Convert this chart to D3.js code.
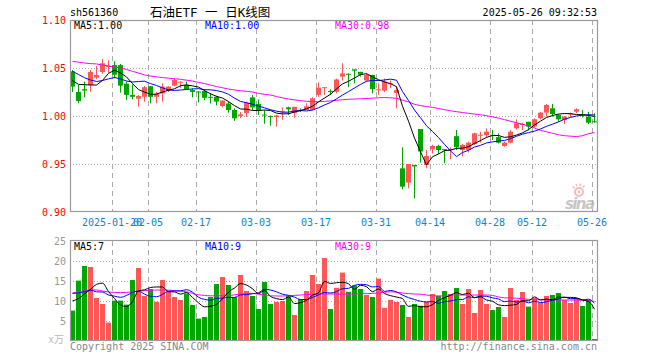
<!DOCTYPE html>
<html>
<head>
<meta charset="utf-8">
<script src="https://cdn.jsdelivr.net/npm/d3@7"></script>
<style>
  body { margin: 0; background: #fff; }
  svg { display: block; }
  text { font-family: "DejaVu Sans Mono", monospace; font-size: 10px; }
</style>
</head>
<body>
<svg id="chart" width="660" height="360"></svg>
<script>
// trading days shown, 2025
const dates = [
  "01-09","01-10","01-13","01-14","01-15","01-16","01-17","01-20","01-21","01-22","01-23","01-24","01-27",
  "02-05","02-06","02-07","02-10","02-11","02-12","02-13","02-14","02-17","02-18","02-19","02-20","02-21","02-24","02-25","02-26","02-27","02-28",
  "03-03","03-04","03-05","03-06","03-07","03-10","03-11","03-12","03-13","03-14","03-17","03-18","03-19","03-20","03-21","03-24","03-25","03-26","03-27","03-28","03-31",
  "04-01","04-02","04-03","04-07","04-08","04-09","04-10","04-11","04-14","04-15","04-16","04-17","04-18","04-21","04-22","04-23","04-24","04-25","04-28","04-29","04-30",
  "05-06","05-07","05-08","05-09","05-12","05-13","05-14","05-15","05-16","05-19","05-20","05-21","05-22","05-23","05-26"
];

const open = [
  1.0465,1.025,1.028,1.0323,1.040,1.0458,1.051,1.053,1.053,1.0337,
  1.022,1.018,1.020,1.031,1.020,1.0236,1.0264,1.0316,1.0347,1.0323,
  1.027,1.0255,1.026,1.020,1.020,1.0104,1.013,1.0063,1.000,1.003,
  1.0194,1.0125,1.0015,1.000,0.999,1.004,1.009,1.003,1.0065,1.0063,
  1.0065,1.022,1.0295,1.026,1.0253,1.041,1.044,1.0486,1.046,1.037,
  1.0427,1.027,1.0264,1.0335,1.024,0.9455,0.9306,0.949,0.9865,0.949,
  0.9653,0.9688,0.9655,0.9650,0.979,0.9646,0.9646,0.9708,0.980,0.980,
  0.9805,0.978,0.9688,0.9722,0.9872,0.991,0.994,0.989,0.9976,1.0035,
  1.008,1.001,0.9958,1.002,1.0045,1.0015,0.9993,0.9945
];
const high = [
  1.048,1.0323,1.0358,1.0479,1.052,1.0594,1.058,1.057,1.0542,1.0358,
  1.033,1.0215,1.0313,1.0313,1.0253,1.034,1.031,1.039,1.036,1.0358,
  1.0288,1.026,1.028,1.024,1.021,1.0165,1.015,1.008,1.004,1.015,
  1.0219,1.0173,1.006,1.0005,1.001,1.009,1.0097,1.0097,1.008,1.0132,
  1.0194,1.035,1.030,1.0278,1.039,1.055,1.0444,1.0486,1.046,1.045,
  1.043,1.034,1.039,1.037,1.031,0.9674,0.950,0.949,0.9865,0.9646,
  0.970,0.970,0.9655,0.9674,0.9854,0.971,0.9733,0.9826,0.9837,0.987,
  0.9854,0.982,0.9733,0.9854,0.9965,0.993,0.994,0.9976,1.0045,1.0125,
  1.0125,1.002,1.000,1.0035,1.008,1.0063,1.0045,1.0028
];
const low = [
  1.025,1.0132,1.0194,1.0253,1.0382,1.0441,1.045,1.0392,1.0243,1.0167,
  1.0173,1.0097,1.0149,1.0132,1.0132,1.0149,1.025,1.031,1.029,1.027,
  1.0194,1.0142,1.0165,1.013,1.011,1.009,1.0035,0.995,0.998,0.999,
  1.0063,1.001,0.992,0.990,0.989,0.996,1.001,0.998,1.004,1.0063,
  1.006,1.020,1.022,1.0219,1.0236,1.0368,1.030,1.034,1.041,1.036,
  1.0236,1.022,1.025,1.029,1.008,0.9236,0.9247,0.914,0.9514,0.9455,
  0.961,0.9604,0.9507,0.955,0.9646,0.958,0.962,0.9698,0.9722,0.978,
  0.975,0.9715,0.968,0.9715,0.986,0.9854,0.985,0.988,0.9965,0.9993,
  0.9993,0.994,0.9917,0.9986,1.003,0.9986,0.9917,0.993
];
const close = [
  1.0306,1.0156,1.0265,1.0458,1.0427,1.0549,1.052,1.043,1.0316,1.022,
  1.020,1.021,1.030,1.020,1.023,1.0306,1.0306,1.0375,1.0358,1.028,
  1.025,1.0245,1.019,1.019,1.015,1.016,1.0063,0.9976,1.0017,1.014,
  1.009,1.006,1.0005,0.999,1.0005,1.005,1.007,1.0095,1.006,1.010,
  1.0184,1.0295,1.030,1.0253,1.038,1.0444,1.043,1.0472,1.043,1.0427,
  1.028,1.0278,1.0358,1.034,1.027,0.9264,0.950,0.9475,0.963,0.9583,
  0.9688,0.9646,0.9650,0.9655,0.9674,0.970,0.9722,0.982,0.9805,0.9837,
  0.980,0.9722,0.9722,0.9837,0.9924,0.9917,0.989,0.9965,1.0035,1.0115,
  1.002,0.9965,0.9993,1.0028,1.007,1.001,0.993,0.994
];
// volume, 万手
const volume = [
  7.6,15.1,18.75,18.5,10.75,9.25,4.6,10.1,10.1,9.1,
  15.25,18.25,11.25,13,9.8,15.25,12.3,11,10.25,11.9,
  9,5.6,6,11,14.25,16,14,11,16.5,12.5,
  11.25,8,14.75,9.25,9.75,10,11.25,6.5,10.5,12.5,
  16.5,14.25,20.75,8,13.3,17.1,12.3,13.9,13,11.5,
  11,15.6,8.3,10.3,9.75,9,6,9.25,8.8,9.75,
  11.75,11.3,12.5,11.75,13.25,9.25,13,7,12.75,9.25,
  7.75,8.5,6,13.25,10.25,12.25,8.6,10.75,9.5,11.25,
  11.5,12,10.25,9.5,10.75,8.75,10.25,0.5
];
// closes / volumes just before the window (estimated so the MA lines start right)
const prevClose = [1.048, 1.060, 1.070, 1.058, 1.045, 1.0346, 1.0285, 1.0473, 1.043];
const prevVolume = [14, 15.5, 15, 14.6, 9.8, 12, 13, 13, 4.5];

// MA30 (needs 30 days of history we don't have)
const ma30 = [
  1.057,1.056,1.0552,1.0546,1.0542,1.053,1.0522,1.051,1.050,1.0485,
  1.0465,1.0448,1.0428,1.0416,1.0408,1.040,1.0394,1.0388,1.0382,1.0373,
  1.0364,1.035,1.0338,1.0322,1.0307,1.0294,1.0281,1.0271,1.0263,1.0257,
  1.025,1.0235,1.0226,1.0218,1.0203,1.0188,1.0177,1.0168,1.016,1.0153,
  1.0149,1.0149,1.0152,1.0157,1.0163,1.017,1.0174,1.0177,1.018,1.0182,
  1.0186,1.019,1.0192,1.019,1.0184,1.0165,1.0147,1.0122,1.0108,1.0098,
  1.009,1.0078,1.0066,1.0055,1.0045,1.0036,1.0028,1.002,1.0013,1.0003,
  0.9992,0.9978,0.9962,0.9945,0.993,0.9915,0.9893,0.9875,0.985,0.9835,
  0.982,0.9805,0.9795,0.979,0.9785,0.9795,0.9815,0.9828
];
const volMa30 = [
  12.0,12.3,12.6,12.75,12.75,12.5,12.25,12.15,12.1,12.15,
  12.3,12.45,12.6,12.65,12.75,12.75,12.7,12.6,12.45,12.3,
  11.9,11.55,11.4,11.3,11.3,11.3,11.35,11.55,11.75,11.85,
  11.9,11.7,11.5,11.3,11.25,11.25,11.3,11.4,11.5,11.6,
  11.7,11.75,11.75,11.75,11.75,11.7,11.7,11.75,11.8,11.85,
  11.9,12.0,12.2,12.3,12.2,12.0,11.85,11.75,11.7,11.5,
  11.3,11.25,11.35,11.5,11.5,11.5,11.5,11.5,11.5,11.5,
  11.4,11.0,10.8,10.75,10.7,10.55,10.4,10.35,10.3,10.25,
  10.25,10.25,10.25,10.25,10.25,10.2,10.1,9.9
];

const tickDates = ["01-20","02-05","02-17","03-03","03-17","03-31","04-14","04-28","05-12","05-26"];
const tickLabels = ["2025-01-20","02-05","02-17","03-03","03-17","03-31","04-14","04-28","05-12","05-26"];
const priceTicks = [0.90, 0.95, 1.00, 1.05, 1.10];
const volTicks = [5, 10, 15, 20, 25];

const RED = "#ff5757";
const GREEN = "#00a600";

function movingAvg(values, prev, n) {
  const all = prev.concat(values);
  return values.map((_, i) => {
    const j = i + prev.length;
    return d3.mean(all.slice(j - n + 1, j + 1));
  });
}

const ma5 = movingAvg(close, prevClose, 5);
const ma10 = movingAvg(close, prevClose, 10);
const volMa5 = movingAvg(volume, prevVolume, 5);
const volMa10 = movingAvg(volume, prevVolume, 10);

const svg = d3.select("#chart");
const left = 70, right = 598;

const x = d3.scaleBand().domain(dates).range([left, right]);
const barW = x.bandwidth() - 1;
const cx = d => x(d) + barW / 2;

const y = d3.scaleLinear().domain([0.90, 1.10]).range([212, 20]);
const yv = d3.scaleLinear().domain([0, 25]).range([341, 241]);

const candles = dates.map((d, i) => ({
  date: d, o: open[i], h: high[i], l: low[i], c: close[i], v: volume[i],
  up: close[i] >= open[i]
}));

// header
svg.append("text").attr("x", 70).attr("y", 16).attr("fill", "#000").text("sh561360");
svg.append("text").attr("x", 150).attr("y", 17)
  .style("font-family", "'DejaVu Sans Mono', 'Noto Sans CJK SC'")
  .style("font-size", "12.5px")
  .attr("fill", "#000").text("石油ETF 一 日K线图");
svg.append("text").attr("x", 597).attr("y", 16).attr("text-anchor", "end")
  .attr("fill", "#000").text("2025-05-26 09:32:53");

function gridFor(top, bottom, yScale, ticks) {
  const g = svg.append("g");
  ticks.forEach(t => {
    const yy = Math.round(yScale(t)) + 0.5;
    if (yy <= top + 1 || yy >= bottom - 1) return;
    g.append("line")
      .attr("x1", left).attr("x2", right - 1)
      .attr("y1", yy).attr("y2", yy)
      .attr("stroke", "#aaa")
      .attr("stroke-dasharray", "1,2");
  });
  tickDates.forEach(d => {
    g.append("line")
      .attr("x1", x(d) + 0.5).attr("x2", x(d) + 0.5)
      .attr("y1", top).attr("y2", bottom)
      .attr("stroke", "#aaa")
      .attr("stroke-dasharray", "5,4");
  });
}

gridFor(20, 212, y, priceTicks);
gridFor(241, 341, yv, volTicks);

// sina watermark
const logo = svg.append("g").attr("opacity", 0.75);
logo.append("circle").attr("cx", 579).attr("cy", 192).attr("r", 4)
  .attr("fill", "none").attr("stroke", "#f3a3a3").attr("stroke-width", 2);
logo.append("circle").attr("cx", 579).attr("cy", 192).attr("r", 1.4).attr("fill", "#f3a3a3");
[-50, -20, 10, 40].forEach(a => {
  const r = a * Math.PI / 180;
  logo.append("line")
    .attr("x1", 579 + 6 * Math.sin(r)).attr("y1", 192 - 6 * Math.cos(r))
    .attr("x2", 579 + 8.5 * Math.sin(r)).attr("y2", 192 - 8.5 * Math.cos(r))
    .attr("stroke", "#f3a3a3").attr("stroke-width", 1.5);
});
logo.append("text").attr("x", 565).attr("y", 209)
  .attr("textLength", 30)
  .style("font-family", "'DejaVu Sans'")
  .style("font-size", "15px").style("font-weight", "bold").style("font-style", "italic")
  .attr("fill", "#b4b4b4").text("sina");

// candles
const cg = svg.append("g");
cg.selectAll("line.wick").data(candles).join("line")
  .attr("class", "wick")
  .attr("x1", d => cx(d.date)).attr("x2", d => cx(d.date))
  .attr("y1", d => y(d.h)).attr("y2", d => y(d.l))
  .attr("stroke", d => d.up ? RED : GREEN);
cg.selectAll("rect").data(candles).join("rect")
  .attr("x", d => x(d.date))
  .attr("y", d => y(Math.max(d.o, d.c)))
  .attr("width", barW)
  .attr("height", d => Math.max(1, Math.abs(y(d.o) - y(d.c))))
  .attr("fill", d => d.up ? RED : GREEN);

// price MA lines
const priceLine = d3.line().x((v, i) => cx(dates[i])).y(v => y(v));
[[ma30, "#ff00ff"], [ma10, "#0000ff"], [ma5, "#000"]].forEach(([vals, col]) => {
  svg.append("path").datum(vals)
    .attr("d", priceLine)
    .attr("fill", "none").attr("stroke", col).attr("stroke-width", 1);
});

// volume bars
svg.append("g").selectAll("rect").data(candles).join("rect")
  .attr("x", d => x(d.date))
  .attr("y", d => yv(d.v))
  .attr("width", barW)
  .attr("height", d => yv(0) - yv(d.v))
  .attr("fill", d => d.up ? RED : GREEN);

const volLine = d3.line().x((v, i) => cx(dates[i])).y(v => yv(v)).curve(d3.curveMonotoneX);
[[volMa30, "#ff00ff"], [volMa10, "#0000ff"], [volMa5, "#000"]].forEach(([vals, col]) => {
  svg.append("path").datum(vals)
    .attr("d", volLine)
    .attr("fill", "none").attr("stroke", col).attr("stroke-width", 1);
});

// frames
[[20, 211], [240, 340]].forEach(([t, b]) => {
  svg.append("rect")
    .attr("x", left + 0.5).attr("y", t + 0.5)
    .attr("width", right - 1 - left).attr("height", b - t)
    .attr("fill", "none").attr("stroke", "#999").attr("stroke-width", 1.2);
});

// axis labels
svg.append("g").selectAll("text").data(priceTicks).join("text")
  .attr("x", 66).attr("y", d => y(d) + 4)
  .attr("text-anchor", "end").attr("fill", "#f00")
  .text(d => d3.format(".2f")(d));

svg.append("g").selectAll("text").data([0].concat(volTicks).slice(1)).join("text")
  .attr("x", 66).attr("y", d => yv(d) + 4)
  .attr("text-anchor", "end").attr("fill", "#999")
  .text(d => d);
svg.append("text").attr("x", 64).attr("y", 343).attr("text-anchor", "end")
  .style("font-family", "'DejaVu Sans Mono', 'Noto Sans CJK SC'")
  .attr("fill", "#bbb").text("x万");

svg.append("g").selectAll("text").data(tickDates).join("text")
  .attr("x", d => x(d))
  .attr("y", 226)
  .attr("text-anchor", "middle")
  .attr("fill", "#0a84d6")
  .text((d, i) => tickLabels[i]);

// legends
const last = a => a[a.length - 1];
const f2 = d3.format(".2f");
const legend = [
  [74, 29, "#000", "MA5:" + f2(last(ma5))],
  [205, 29, "#0000ff", "MA10:" + f2(last(ma10))],
  [335, 29, "#ff00ff", "MA30:" + f2(last(ma30))],
  [74, 250, "#000", "MA5:" + Math.floor(last(volMa5))],
  [205, 250, "#0000ff", "MA10:" + Math.floor(last(volMa10))],
  [335, 250, "#ff00ff", "MA30:" + Math.floor(last(volMa30))]
];
legend.forEach(([lx, ly, col, txt]) => {
  svg.append("text").attr("x", lx).attr("y", ly).attr("fill", col).text(txt);
});

// footer
svg.append("text").attr("x", 70).attr("y", 350).attr("fill", "#888").text("Copyright 2025 SINA.COM");
svg.append("text").attr("x", 597).attr("y", 350).attr("text-anchor", "end")
  .attr("fill", "#888").text("http://finance.sina.com.cn");
</script>
</body>
</html>
